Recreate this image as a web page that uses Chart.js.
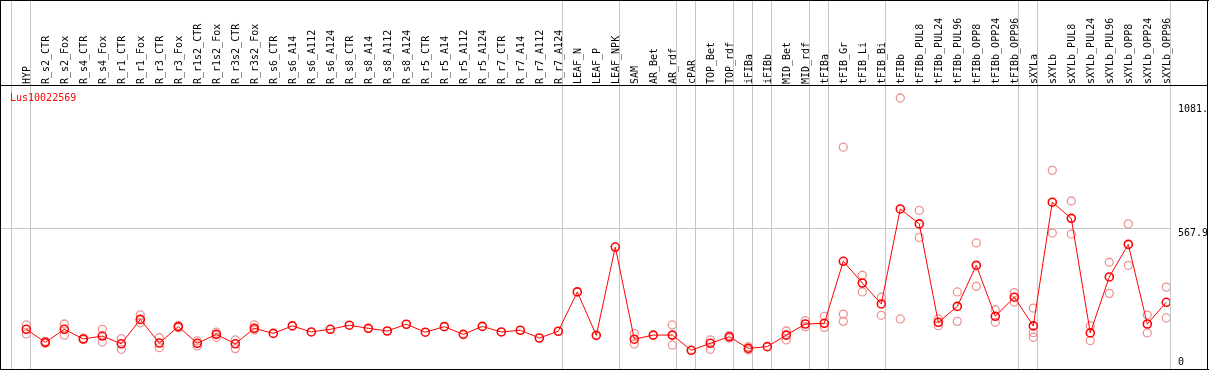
<!DOCTYPE html>
<html>
<head>
<meta charset="utf-8">
<script src="https://cdn.jsdelivr.net/npm/chart.js@4.4.1/dist/chart.umd.min.js"></script>
<style>
html,body{margin:0;padding:0;background:#fff;overflow:hidden;}
canvas{display:block;}
</style>
</head>
<body>
<canvas id="c" width="1209" height="370"></canvas>
<script>
const title = 'Lus10022569';
const categories = ['HYP','R_s2_CTR','R_s2_Fox','R_s4_CTR','R_s4_Fox','R_r1_CTR','R_r1_Fox','R_r3_CTR','R_r3_Fox',
  'R_r1s2_CTR','R_r1s2_Fox','R_r3s2_CTR','R_r3s2_Fox','R_s6_CTR','R_s6_A14','R_s6_A112','R_s6_A124',
  'R_s8_CTR','R_s8_A14','R_s8_A112','R_s8_A124','R_r5_CTR','R_r5_A14','R_r5_A112','R_r5_A124',
  'R_r7_CTR','R_r7_A14','R_r7_A112','R_r7_A124','LEAF_N','LEAF_P','LEAF_NPK','SAM','AR_Bet','AR_rdf',
  'cPAR','TOP_Bet','TOP_rdf','iFIBa','iFIBb','MID_Bet','MID_rdf','tFIBa','tFIB_Gr','tFIB_Li','tFIB_Bi',
  'tFIBb','tFIBb_PUL8','tFIBb_PUL24','tFIBb_PUL96','tFIBb_OPP8','tFIBb_OPP24','tFIBb_OPP96',
  'sXYLa','sXYLb','sXYLb_PUL8','sXYLb_PUL24','sXYLb_PUL96','sXYLb_OPP8','sXYLb_OPP24','sXYLb_OPP96'];
const meanValues = [148,94,148,108,120,88,189,91,159,90,127,88,152,131,162,137,148,165,152,141,169,136,159,127,160,137,144,112,140,
  303,123,489,107,124,124,61,90,117,69,76,124,170,173,430,340,253,647,585,177,243,413,202,281,162,675,608,133,365,500,170,260];
const rep1 = [166,98,170,111,148,109,208,113,163,100,136,104,166,null,null,null,null,null,null,null,null,null,null,null,null,null,null,null,null,
  null,null,null,131,null,166,null,104,122,76,null,141,184,202,903,372,281,1107,641,191,303,506,229,300,236,807,680,162,426,585,207,323];
const rep2 = [129,90,124,105,95,65,175,72,155,79,115,68,145,null,null,null,null,null,null,null,null,null,null,null,null,null,null,null,null,
  null,null,null,87,null,82,null,65,112,62,null,104,159,156,211,303,206,191,529,163,181,326,177,261,134,547,543,101,297,413,133,195];
const rep3 = [null,null,null,null,null,null,null,null,null,null,null,null,null,null,null,null,null,null,null,null,null,null,null,null,null,null,null,null,null,
  null,null,null,null,null,null,null,null,null,null,null,null,null,null,181,null,null,null,null,null,null,null,null,null,115,null,null,null,null,null,null,null];
const groupBreaks = [-1,0,28,31,34,35,37,38,39,41,42,45,52,53,60];
const yTickValues = [1081,567.9,0];
const yTickLabels = ['1081.','567.9','0'];
const gridValues = [567.9];

function pts(arr){ const o=[]; arr.forEach((v,i)=>{ if(v!==null) o.push({x:i,y:v}); }); return o; }
const repPoints = pts(rep1).concat(pts(rep2)).concat(pts(rep3));

const FONT = '10px "DejaVu Sans Mono", "Liberation Mono", monospace';

const framePlugin = {
  id:'frame',
  beforeDraw(chart){
    const ctx = chart.ctx, xs = chart.scales.x, ys = chart.scales.y;
    ctx.save();
    ctx.fillStyle = '#fff';
    ctx.fillRect(0,0,chart.width,chart.height);
    ctx.fillStyle = '#c6c6c6';
    groupBreaks.forEach(k=>{
      const x = Math.round(xs.getPixelForValue(k+0.21));
      ctx.fillRect(x,0,1,369);
    });
    gridValues.forEach(v=>{
      const y = Math.round(ys.getPixelForValue(v));
      ctx.fillRect(1,y,Math.round(xs.getPixelForValue(60.21)),1);
    });
    ctx.restore();
  },
  afterDraw(chart){
    const ctx = chart.ctx, xs = chart.scales.x, ys = chart.scales.y;
    ctx.save();
    ctx.fillStyle = '#000';
    ctx.fillRect(0,0,1209,1);
    ctx.fillRect(0,0,1,370);
    ctx.fillRect(1207,0,1,370);
    ctx.fillRect(0,369,1209,1);
    ctx.fillRect(0,85,1208,1);
    ctx.font = FONT;
    ctx.textAlign = 'left';
    ctx.textBaseline = 'alphabetic';
    categories.forEach((c,i)=>{
      const x = xs.getPixelForValue(i);
      ctx.save();
      ctx.translate(Math.round(x)+4, 84);
      ctx.rotate(-Math.PI/2);
      ctx.fillText(c,0,0);
      ctx.restore();
    });
    ctx.fillStyle = '#ff0000';
    ctx.fillText(title, 10, 101);
    ctx.fillStyle = '#000';
    const xr = Math.round(xs.getPixelForValue(60.21)) + 8;
    yTickValues.forEach((v,i)=>{
      const y = ys.getPixelForValue(v);
      if (v === 0) ctx.fillText(yTickLabels[i], xr, Math.round(y));
      else ctx.fillText(yTickLabels[i], xr, Math.round(y)+8);
    });
    ctx.restore();
  }
};

new Chart(document.getElementById('c'), {
  type:'line',
  data:{
    datasets:[
      { label:'mean', data: meanValues.map((v,i)=>({x:i,y:v})), borderColor:'#ff0000', borderWidth:1,
        pointRadius:4, pointBorderWidth:1.6, pointBorderColor:'#ff0000', pointBackgroundColor:'rgba(0,0,0,0)',
        pointStyle:'circle', tension:0, fill:false, order:0 },
      { label:'reps', data: repPoints, showLine:false, borderColor:'#ee9494',
        pointRadius:4, pointBorderWidth:1.3, pointBorderColor:'#ee9494', pointBackgroundColor:'rgba(0,0,0,0)',
        pointStyle:'circle', order:1 }
    ]
  },
  options:{
    responsive:false, animation:false, devicePixelRatio:1,
    layout:{ autoPadding:false, padding:{ left:2, right:39, top:86, bottom:2 } },
    plugins:{ legend:{display:false}, tooltip:{enabled:false} },
    scales:{
      x:{ type:'linear', min:-1.279, max:60.195, display:false },
      y:{ type:'linear', min:-12.44, max:1156.7, display:false }
    }
  },
  plugins:[framePlugin]
});
</script>
</body>
</html>
